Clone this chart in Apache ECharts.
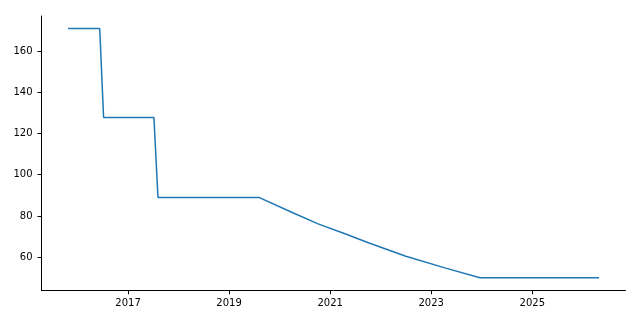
<!DOCTYPE html>
<html>
<head>
<meta charset="utf-8">
<script src="https://cdn.jsdelivr.net/npm/echarts@6/dist/echarts.min.js"></script>
<style>
html,body{margin:0;padding:0;background:#fff;}
#chart{width:640px;height:320px;}
</style>
</head>
<body>
<div id="chart"></div>
<script>
const dates = ['2015-10-25','2016-06-10','2016-07-08','2017-07-07','2017-08-05','2019-08-04',
  '2020-03-25','2020-10-01','2021-04-13','2021-10-09','2022-07-02','2023-04-16','2023-12-20','2026-04-28'];
const values = [170.9,170.9,127.7,127.7,89.0,89.0,81.9,76.3,71.5,66.9,60.5,54.7,50.0,50.0];
const xTickYears = [2017,2019,2021,2023,2025];
const yTicks = [60,80,100,120,140,160];

function ts(s){ const p=s.split('-').map(Number); return Date.UTC(p[0],p[1]-1,p[2]); }
const xs = dates.map(ts);
const xMinData = Math.min(...xs), xMaxData = Math.max(...xs);
const xPad = (xMaxData - xMinData) * 0.05;
const yMinData = Math.min(...values), yMaxData = Math.max(...values);
const yPad = (yMaxData - yMinData) * 0.05;
const xTickVals = xTickYears.map(y => Date.UTC(y,0,1));

const chart = echarts.init(document.getElementById('chart'), null, {renderer:'canvas'});
chart.setOption({
  animation:false,
  grid:{left:41.5, right:14.5, top:16, bottom:29.7, containLabel:false},
  xAxis:{
    type:'value',
    scale:true,
    min: xMinData - xPad,
    max: xMaxData + xPad,
    axisLine:{show:true, onZero:false, lineStyle:{color:'#000', width:1}},
    axisTick:{show:true, length:4, lineStyle:{color:'#000', width:1}, customValues:xTickVals},
    axisLabel:{color:'#000', fontSize:10, fontFamily:'DejaVu Sans', margin:8,
      customValues:xTickVals, formatter:(v)=>String(new Date(v).getUTCFullYear())},
    splitLine:{show:false}
  },
  yAxis:{
    type:'value',
    scale:true,
    min: yMinData - yPad,
    max: yMaxData + yPad,
    axisLine:{show:true, onZero:false, lineStyle:{color:'#000', width:1}},
    axisTick:{show:true, length:4, lineStyle:{color:'#000', width:1}, customValues:yTicks},
    axisLabel:{color:'#000', fontSize:10, fontFamily:'DejaVu Sans', margin:9, customValues:yTicks},
    splitLine:{show:false}
  },
  series:[{
    type:'line',
    data: xs.map((x,i)=>[x, values[i]]),
    showSymbol:false,
    symbol:'none',
    lineStyle:{color:'#1f77b4', width:1.5},
    itemStyle:{color:'#1f77b4'}
  }]
});
</script>
</body>
</html>
